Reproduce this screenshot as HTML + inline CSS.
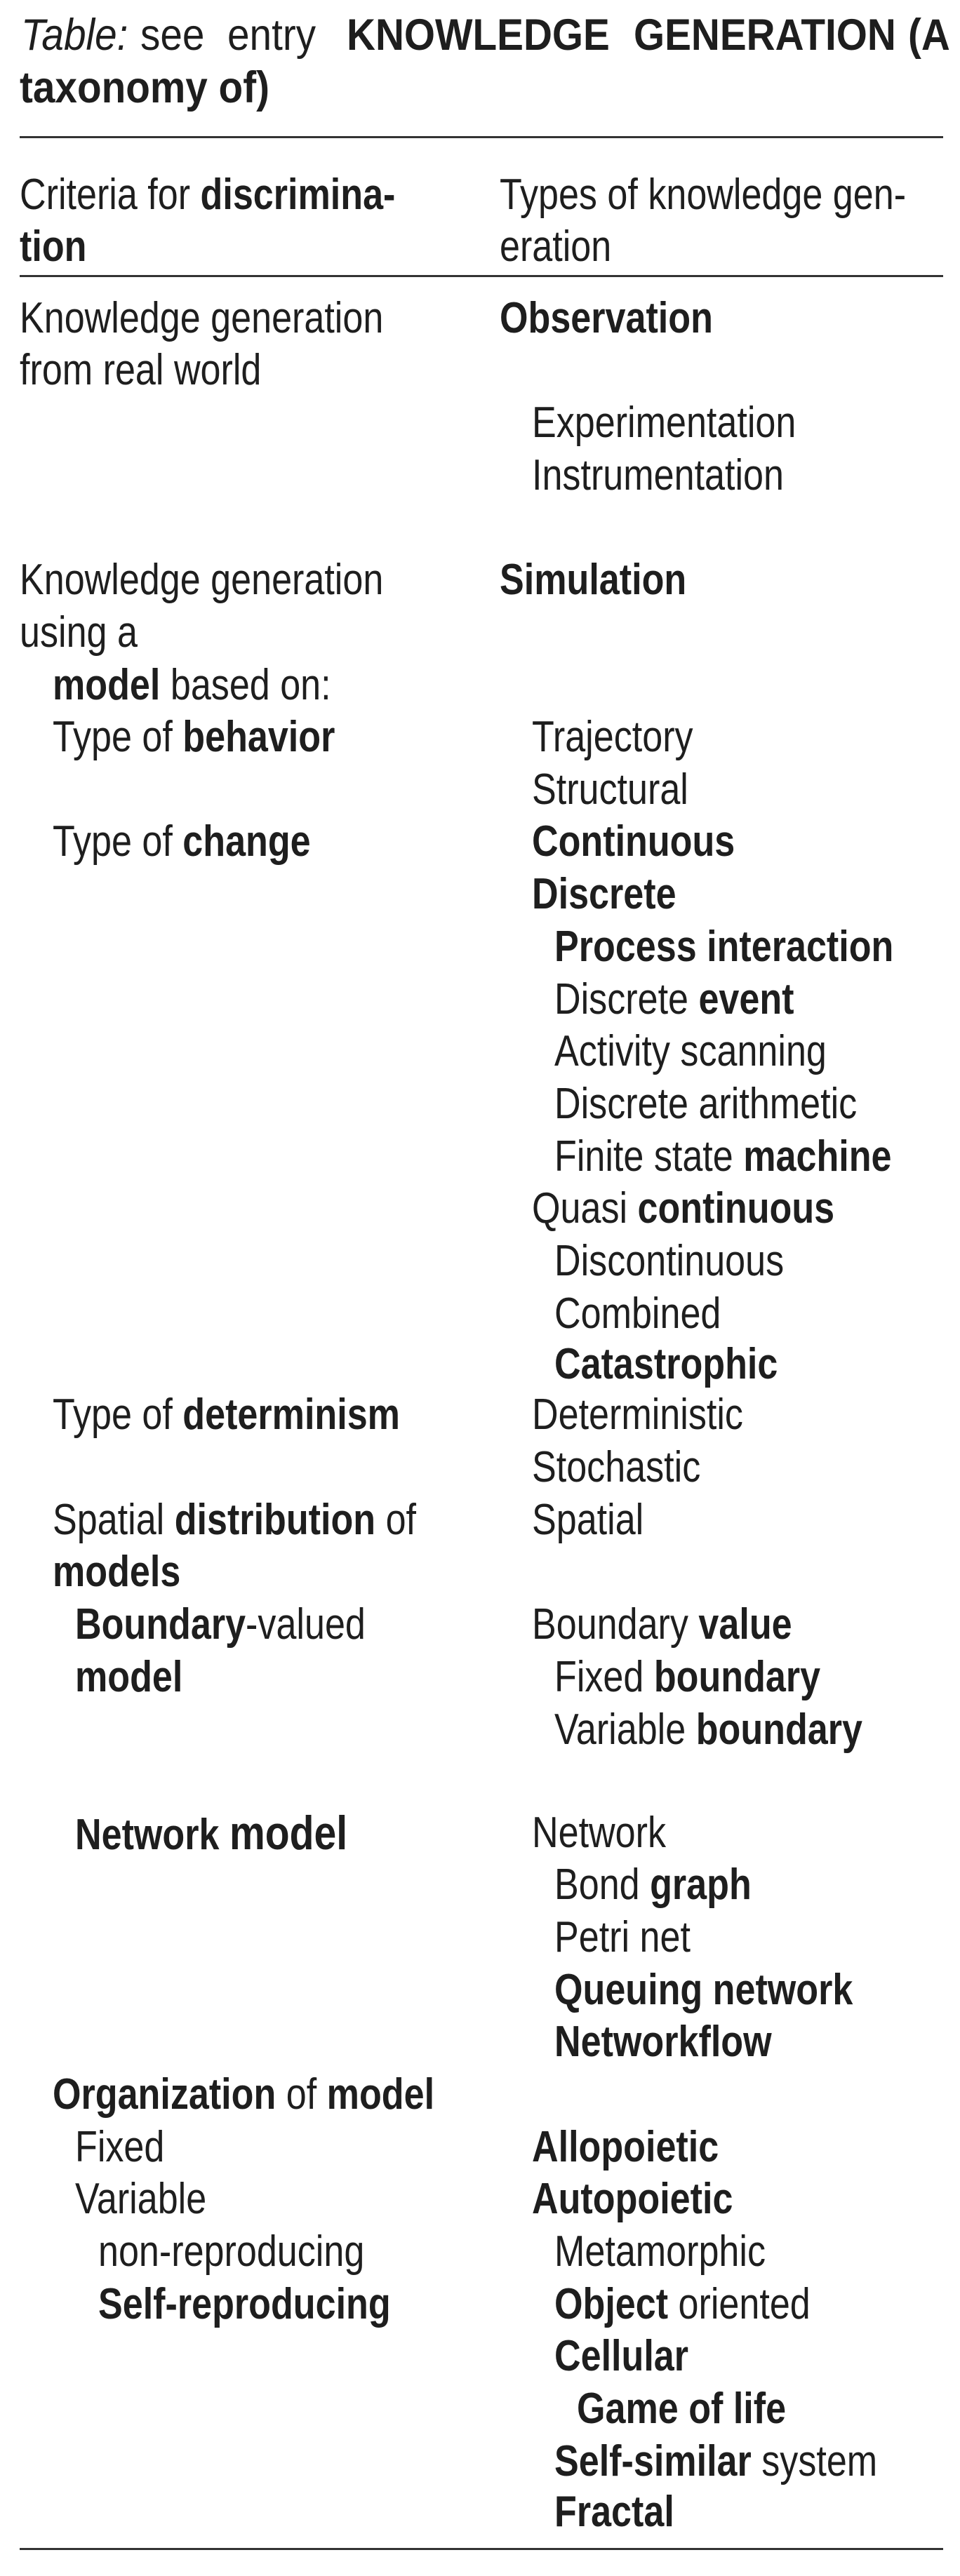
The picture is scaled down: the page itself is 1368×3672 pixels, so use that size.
<!DOCTYPE html>
<html><head><meta charset="utf-8"><style>
html,body{margin:0;padding:0;background:#fff;}
body{width:1368px;height:3672px;position:relative;overflow:hidden;font-family:"Liberation Sans",Arial,sans-serif;color:#1e1e1e;}
.l{position:absolute;font-size:62px;line-height:74px;white-space:nowrap;transform:scaleX(0.84);transform-origin:0 0;}
.t{transform:scaleX(0.9);font-size:63px;}
b{font-weight:bold;}
.r{position:absolute;left:28px;width:1316px;height:3px;background:#333;}
</style></head><body>
<div class="l t" style="left:30px;top:13px"><i>Table:</i></div>
<div class="l t" style="left:200px;top:13px">see</div>
<div class="l t" style="left:324px;top:13px">entry</div>
<div class="l t" style="left:494px;top:13px"><b>KNOWLEDGE</b></div>
<div class="l t" style="left:903px;top:13px"><b>GENERATION</b></div>
<div class="l t" style="left:1294px;top:13px"><b>(A</b></div>
<div class="l t" style="left:28px;top:88px"><b>taxonomy of)</b></div>
<div class="r" style="top:194px"></div>
<div class="l" style="left:28px;top:241px">Criteria for <b>discrimina-</b></div>
<div class="l" style="left:28px;top:315px"><b>tion</b></div>
<div class="l" style="left:712px;top:241px">Types of knowledge gen-</div>
<div class="l" style="left:712px;top:315px">eration</div>
<div class="r" style="top:392px"></div>

<div class="l" style="left:28px;top:417px">Knowledge generation</div>
<div class="l" style="left:28px;top:491px">from real world</div>
<div class="l" style="left:28px;top:790px">Knowledge generation</div>
<div class="l" style="left:28px;top:865px">using a</div>
<div class="l" style="left:75px;top:940px"><b>model</b> based on:</div>
<div class="l" style="left:75px;top:1014px">Type of <b>behavior</b></div>
<div class="l" style="left:75px;top:1163px">Type of <b>change</b></div>
<div class="l" style="left:75px;top:1980px">Type of <b>determinism</b></div>
<div class="l" style="left:75px;top:2130px">Spatial <b>distribution</b> of</div>
<div class="l" style="left:75px;top:2204px"><b>models</b></div>
<div class="l" style="left:107px;top:2279px"><b>Boundary</b>-valued</div>
<div class="l" style="left:107px;top:2354px"><b>model</b></div>
<div class="l" style="left:107px;top:2576px"><b>Network <span style="font-size:68px">model</span></b></div>
<div class="l" style="left:75px;top:2949px"><b>Organization</b> of <b>model</b></div>
<div class="l" style="left:107px;top:3024px">Fixed</div>
<div class="l" style="left:107px;top:3098px">Variable</div>
<div class="l" style="left:140px;top:3173px">non-reproducing</div>
<div class="l" style="left:140px;top:3248px"><b>Self-reproducing</b></div>

<div class="l" style="left:712px;top:417px"><b>Observation</b></div>
<div class="l" style="left:758px;top:566px">Experimentation</div>
<div class="l" style="left:758px;top:641px">Instrumentation</div>
<div class="l" style="left:712px;top:790px"><b>Simulation</b></div>
<div class="l" style="left:758px;top:1014px">Trajectory</div>
<div class="l" style="left:758px;top:1089px">Structural</div>
<div class="l" style="left:758px;top:1163px"><b>Continuous</b></div>
<div class="l" style="left:758px;top:1238px"><b>Discrete</b></div>
<div class="l" style="left:790px;top:1313px"><b>Process interaction</b></div>
<div class="l" style="left:790px;top:1388px">Discrete <b>event</b></div>
<div class="l" style="left:790px;top:1462px">Activity scanning</div>
<div class="l" style="left:790px;top:1537px">Discrete arithmetic</div>
<div class="l" style="left:790px;top:1612px">Finite state <b>machine</b></div>
<div class="l" style="left:758px;top:1686px">Quasi <b>continuous</b></div>
<div class="l" style="left:790px;top:1761px">Discontinuous</div>
<div class="l" style="left:790px;top:1836px">Combined</div>
<div class="l" style="left:790px;top:1908px"><b>Catastrophic</b></div>
<div class="l" style="left:758px;top:1980px">Deterministic</div>
<div class="l" style="left:758px;top:2055px">Stochastic</div>
<div class="l" style="left:758px;top:2130px">Spatial</div>
<div class="l" style="left:758px;top:2279px">Boundary <b>value</b></div>
<div class="l" style="left:790px;top:2354px">Fixed <b>boundary</b></div>
<div class="l" style="left:790px;top:2429px">Variable <b>boundary</b></div>
<div class="l" style="left:758px;top:2576px">Network</div>
<div class="l" style="left:790px;top:2650px">Bond <b>graph</b></div>
<div class="l" style="left:790px;top:2725px">Petri net</div>
<div class="l" style="left:790px;top:2800px"><b>Queuing network</b></div>
<div class="l" style="left:790px;top:2874px"><b>Networkflow</b></div>
<div class="l" style="left:758px;top:3024px"><b>Allopoietic</b></div>
<div class="l" style="left:758px;top:3098px"><b>Autopoietic</b></div>
<div class="l" style="left:790px;top:3173px">Metamorphic</div>
<div class="l" style="left:790px;top:3248px"><b>Object</b> oriented</div>
<div class="l" style="left:790px;top:3322px"><b>Cellular</b></div>
<div class="l" style="left:822px;top:3397px"><b>Game of life</b></div>
<div class="l" style="left:790px;top:3472px"><b>Self-similar</b> system</div>
<div class="l" style="left:790px;top:3544px"><b>Fractal</b></div>
<div class="r" style="top:3632px"></div>
</body></html>
